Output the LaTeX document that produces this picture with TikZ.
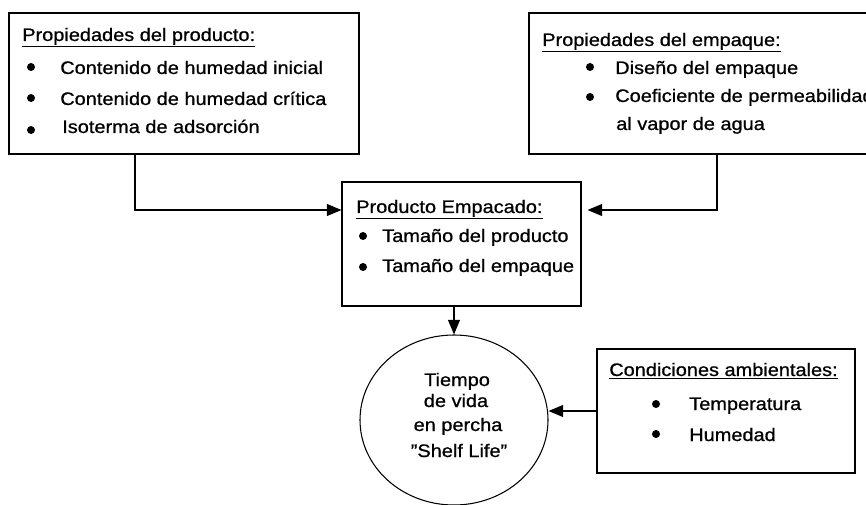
\documentclass[tikz,border=0pt]{standalone}
\usepackage{fontspec}
\setmainfont[FakeStretch=1.1,FakeBold=0.8]{Liberation Sans}
\usetikzlibrary{arrows.meta,shapes.geometric,fit}
\tikzset{
  box/.style={draw, line width=0.8pt, inner sep=0pt, fill=white},
  txt/.style={inner sep=0pt, anchor=base west, font=\fontsize{13.6}{15}\selectfont},
  ctxt/.style={inner sep=0pt, anchor=base, font=\fontsize{13.6}{15}\selectfont},
  dot/.style={circle, fill=black, inner sep=0pt, minimum size=6pt},
  arr/.style={line width=0.8pt, -{Triangle[length=11pt,width=9pt]}},
}
\begin{document}
\begin{tikzpicture}[x=0.75pt,y=-0.75pt]
\useasboundingbox (0,0) rectangle (866,505);
\clip (0,0) rectangle (866,505);
\fill[white] (0,0) rectangle (866,505);
% boxes
\node[box, fit={(9,13) (359,154)}] (b1) {};
\node[box, fit={(529,13) (890,154)}] (b2) {};
\node[box, fit={(342,182) (581,306)}] (b3) {};
\node[box, fit={(597,349) (855,473)}] (b4) {};
\node[draw, line width=0.8pt, ellipse, minimum width=141pt, minimum height=127.5pt, inner sep=0pt] (c) at (454,420) {};
% box 1 text
\node[txt] (h1) at (22,41) {\underline{Propiedades del producto:}};
\node[dot] (d11) at (31,67) {};
\node[txt] (t11) at (60,74) {Contenido de humedad inicial};
\node[dot] (d12) at (31,98) {};
\node[txt] (t12) at (60,105) {Contenido de humedad crítica};
\node[dot] (d13) at (31,130) {};
\node[txt] (t13) at (62,133) {Isoterma de adsorción};
% box 2 text
\node[txt] (h2) at (542,46) {\underline{Propiedades del empaque:}};
\node[dot] (d21) at (590,67) {};
\node[txt] (t21) at (615,74) {Diseño del empaque};
\node[dot] (d22) at (590,97) {};
\node[txt] (t22) at (615,102) {Coeficiente de permeabilidad};
\node[txt] (t23) at (616,130) {al vapor de agua};
% box 3 text
\node[txt] (h3) at (356,213) {\underline{Producto Empacado:}};
\node[dot] (d31) at (363,236) {};
\node[txt] (t31) at (382,242) {Tamaño del producto};
\node[dot] (d32) at (363,267) {};
\node[txt] (t32) at (382,272) {Tamaño del empaque};
% box 4 text
\node[txt] (h4) at (609,376) {\underline{Condiciones ambientales:}};
\node[dot] (d41) at (656,404) {};
\node[txt] (t41) at (689,410) {Temperatura};
\node[dot] (d42) at (656,434) {};
\node[txt] (t42) at (689,441) {Humedad};
% circle text
\node[ctxt] (c1) at (457,386) {Tiempo};
\node[ctxt] (c2) at (456,407) {de vida};
\node[ctxt] (c3) at (458,431) {en percha};
\node[ctxt] (c4) at (459,457) {\symbol{34}Shelf Life\symbol{34}};
% connectors
\coordinate (k1) at (135,210);
\coordinate (k2) at (717,210);
\draw[arr] (b1.south -| k1) |- (b3.west |- k1);
\draw[arr] (b2.south -| k2) |- ([xshift=4.5pt]b3.east |- k2);
\draw[arr] (c.north |- b3.south) -- (c.north);
\draw[arr] (b4.west) -- (b4.west -| c.east);
\end{tikzpicture}
\end{document}
